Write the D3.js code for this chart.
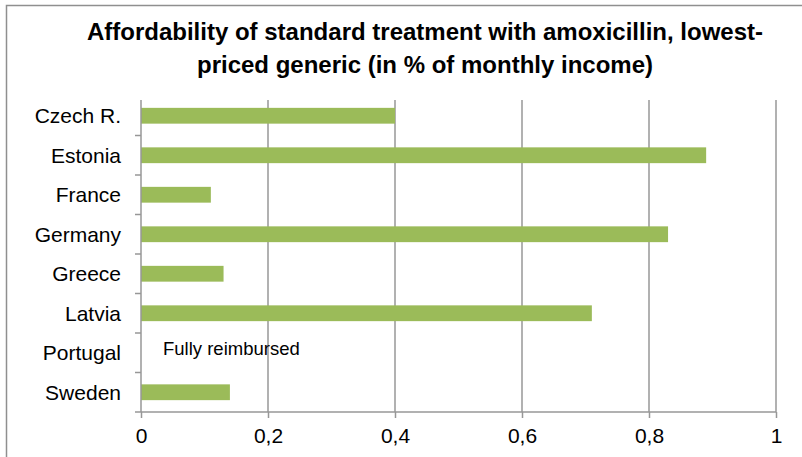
<!DOCTYPE html>
<html>
<head>
<meta charset="utf-8">
<script src="https://cdn.jsdelivr.net/npm/d3@7"></script>
<style>
  body { margin: 0; background: #fff; }
  svg { display: block; font-family: "Liberation Sans", Arial, sans-serif; }
</style>
</head>
<body>
<div id="chart"></div>
<script>
/**
 * Data
 */
const countries = ["Czech R.", "Estonia", "France", "Germany", "Greece", "Latvia", "Portugal", "Sweden"];
const shares = [0.40, 0.89, 0.11, 0.83, 0.13, 0.71, 0, 0.14];
const xTicks = [0, 0.2, 0.4, 0.6, 0.8, 1];
const titleLines = [
  "Affordability of standard treatment with amoxicillin, lowest-",
  "priced generic (in % of monthly income)"
];
const notes = { "Portugal": "Fully reimbursed" };

/**
 * Globals
 */
const width = 802;
const height = 457;
const margin = { t: 96, r: 26, b: 45, l: 141 };
const gridColor = "#979797";

var scale = {
  x: d3.scaleLinear().domain([0, 1]).range([margin.l, width - margin.r]),
  y: d3.scaleBand().domain(countries).range([margin.t, height - margin.b])
    .paddingInner(0.6).paddingOuter(0.3)
};

var svg = d3.select("#chart").append("svg")
  .attr("width", width)
  .attr("height", height);

// outer chart frame (only left/top visible in the crop)
svg.append("path")
  .attr("d", "M6.5," + height + "V5.5H" + width)
  .attr("fill", "none")
  .attr("stroke", "#8f8f8f")
  .attr("stroke-width", 1.5);

// title
svg.append("g").selectAll("text")
  .data(titleLines)
  .enter()
  .append("text")
  .attr("x", 425)
  .attr("y", function (d, i) { return 40 + i * 32.5; })
  .attr("text-anchor", "middle")
  .style("font-size", "24px")
  .style("font-weight", "bold")
  .style("fill", "#000")
  .text(function (d) { return d; });

var y0 = scale.y.range()[1];
var gridTop = margin.t + 4;

// vertical gridlines
svg.append("g").selectAll("line")
  .data(xTicks.slice(1))
  .enter()
  .append("line")
  .attr("x1", function (d) { return scale.x(d); })
  .attr("x2", function (d) { return scale.x(d); })
  .attr("y1", gridTop)
  .attr("y2", y0)
  .attr("stroke", gridColor)
  .attr("stroke-width", 1.5);

// bars
svg.append("g").selectAll("rect")
  .data(shares)
  .enter()
  .append("rect")
  .attr("x", scale.x(0))
  .attr("y", function (d, i) { return scale.y(countries[i]); })
  .attr("width", function (d) { return scale.x(d) - scale.x(0); })
  .attr("height", scale.y.bandwidth())
  .attr("fill", "#9bbb59");

// note for reimbursed country
svg.append("g").selectAll("text")
  .data(Object.keys(notes))
  .enter()
  .append("text")
  .attr("x", scale.x(0) + 22)
  .attr("y", function (d) { return scale.y(d) + scale.y.bandwidth() / 2 - 4; })
  .attr("dy", "0.35em")
  .style("font-size", "18.5px")
  .text(function (d) { return notes[d]; });

// x axis
var xAxis = d3.axisBottom(scale.x)
  .tickValues(xTicks)
  .tickSize(6)
  .tickPadding(10)
  .tickFormat(function (d) { return String(d).replace(".", ","); });

var gx = svg.append("g")
  .attr("transform", "translate(0," + y0 + ")")
  .call(xAxis);
gx.select(".domain").attr("stroke", gridColor).attr("stroke-width", 1.5)
  .attr("d", "M" + scale.x(0) + ",0H" + scale.x(1));
gx.selectAll(".tick line").attr("stroke", gridColor).attr("stroke-width", 1.5);
gx.selectAll(".tick text")
  .style("font-size", "21px")
  .style("font-family", "Liberation Sans, Arial, sans-serif")
  .attr("fill", "#000");

// y axis: line, band boundary ticks, labels
var step = scale.y.step();
var boundaries = d3.range(1, countries.length + 1).map(function (i) {
  return margin.t + i * step;
});
var gy = svg.append("g");
gy.append("line")
  .attr("x1", scale.x(0))
  .attr("x2", scale.x(0))
  .attr("y1", gridTop)
  .attr("y2", y0)
  .attr("stroke", gridColor)
  .attr("stroke-width", 1.5);
gy.selectAll(".ytick")
  .data(boundaries)
  .enter()
  .append("line")
  .attr("class", "ytick")
  .attr("x1", scale.x(0) - 6)
  .attr("x2", scale.x(0))
  .attr("y1", function (d) { return d; })
  .attr("y2", function (d) { return d; })
  .attr("stroke", gridColor)
  .attr("stroke-width", 1.5);
gy.selectAll(".ylabel")
  .data(countries)
  .enter()
  .append("text")
  .attr("class", "ylabel")
  .attr("x", scale.x(0) - 20)
  .attr("y", function (d) { return scale.y(d) + scale.y.bandwidth() / 2; })
  .attr("dy", "0.36em")
  .attr("text-anchor", "end")
  .style("font-size", "21px")
  .text(function (d) { return d; });
</script>
</body>
</html>
